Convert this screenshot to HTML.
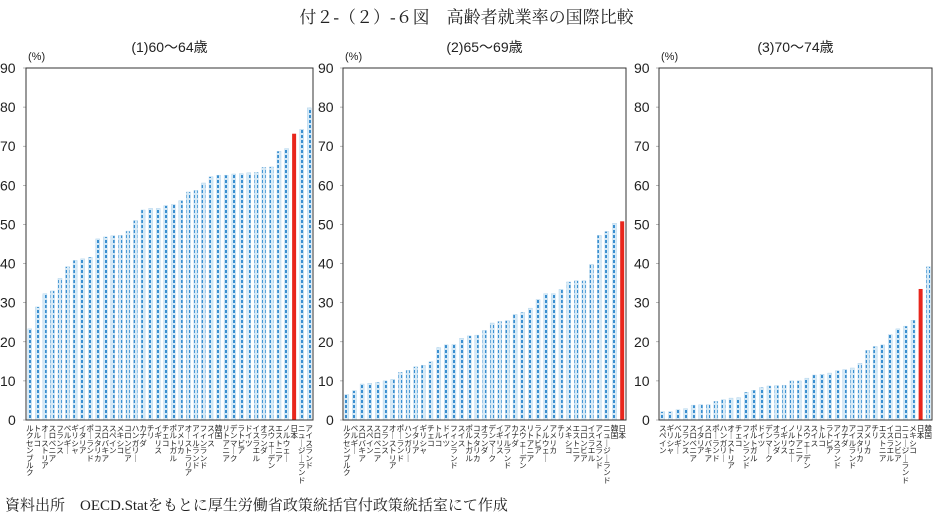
<!DOCTYPE html>
<html><head><meta charset="utf-8">
<style>
body{margin:0;width:933px;height:515px;background:#fff;position:relative;overflow:hidden;font-family:"Liberation Sans","Noto Sans CJK JP",sans-serif;}
svg{position:absolute;left:0;top:0}
.lab{position:absolute;font-size:7.6px;line-height:7.4px;width:9px;text-align:center;color:#222;font-family:"Noto Sans CJK JP",sans-serif;white-space:normal}
.title{position:absolute;top:3px;left:0;width:933px;text-align:center;font-size:17px;font-family:"Liberation Serif","Noto Serif CJK SC",serif;color:#222}
.foot{position:absolute;top:494px;left:5px;font-size:15px;font-family:"Liberation Serif","Noto Serif CJK SC",serif;color:#222}
</style></head><body>
<div class="title">付２-（２）-６図　高齢者就業率の国際比較</div>
<div class="foot">資料出所　OECD.Statをもとに厚生労働省政策統括官付政策統括室にて作成</div>
<svg id="chart" width="933" height="515">
<defs>
<pattern id="hatch" width="4" height="5" patternUnits="userSpaceOnUse">
<rect width="4" height="5" fill="#d6eaf7"/>
<rect x="1" y="0" width="2" height="3" fill="#3a8fd0"/>
</pattern>
</defs>
</svg>
<script>
const cats1=["ルクセンブルク","トルコ","オーストリア","スロベニア","フランス","ベルギー","ギリシャ","イタリア","ポーランド","コスタリカ","スロバキア","スペイン","メキシコ","コロンビア","ハンガリー","カナダ","チリ","イギリス","チェコ","ポルトガル","アメリカ","オーストラリア","アイルランド","フィンランド","スイス","韓国","リトアニア","デンマーク","ラトビア","ドイツ","イスラエル","オランダ","スウェーデン","エストニア","ノルウェー","日本","ニュージーランド","アイスランド"];
const vals1=[23.3,28.9,32.3,33,36.2,39.2,40.8,41.2,41.6,46.3,46.8,47.1,47.2,48.3,51,53.7,54.1,54.1,54.8,55.1,56.1,58.3,58.7,60.6,62.2,62.6,62.6,62.9,63.0,63.2,63.3,64.6,64.7,68.7,69.4,73.2,74.3,79.8];
const cats2=["ルクセンブルク","ベルギー","スロバキア","スペイン","スロベニア","フランス","オーストリア","ポーランド","ハンガリー","イタリア","ギリシャ","チェコ","トルコ","ドイツ","フィンランド","スイス","ポルトガル","コスタリカ","オランダ","デンマーク","イギリス","アイルランド","カナダ","スウェーデン","リトアニア","ラトビア","ノルウェー","アメリカ","チリ","メキシコ","エストニア","コロンビア","イスラエル","アイスランド","ニュージーランド","韓国","日本"];
const vals2=[6.5,7.5,9.2,9.4,9.6,10,10.4,12.2,12.7,13.6,14,14.9,18.5,19.2,19.3,20.9,21.5,21.7,22.9,24.8,25.2,25.4,27,27.5,28.6,30.8,32.3,32.3,33.4,35.3,35.6,35.6,39.8,47.2,48.2,50.3,50.8];
const cats3=["スペイン","ギリシャ","ベルギー","フランス","スロベニア","イタリア","スロバキア","ポーランド","ハンガリー","オーストリア","チェコ","フィンランド","ポルトガル","ドイツ","デンマーク","オランダ","イギリス","ノルウェー","リトアニア","スウェーデン","スイス","トルコ","ラトビア","アイスランド","カナダ","アイルランド","コスタリカ","アメリカ","チリ","エストニア","イスラエル","コロンビア","ニュージーランド","メキシコ","日本","韓国"];
const vals3=[2.1,2.1,2.6,2.9,3.8,3.9,3.9,4.8,5.2,5.6,5.7,7.1,7.6,8.3,8.7,8.8,8.9,10,10,10.7,11.5,11.7,12,12.6,12.9,13.3,14.5,17.8,18.8,19.2,21.8,23.3,24,25.5,33.5,39.2];
const titles=["(1)60～64歳","(2)65～69歳","(3)70～74歳"];
const yTicks=[0,10,20,30,40,50,60,70,80,90];
const highlight="日本";

const NS="http://www.w3.org/2000/svg";
const svg=document.getElementById('chart');
function mk(tag,attrs,parent){const e=document.createElementNS(NS,tag);for(const k in attrs)e.setAttribute(k,attrs[k]);(parent||svg).appendChild(e);return e;}
const top0=68,bot=420;
function yScale(v){return bot-(v/90)*(bot-top0);}
const panels=[{c:cats1,v:vals1,l:26,r:313,yl:0},{c:cats2,v:vals2,l:343,r:626,yl:318},{c:cats3,v:vals3,l:659,r:932,yl:634}];
panels.forEach((p,pi)=>{
  const g=mk('g',{});
  
  
  yTicks.forEach(t=>{
    const tx=mk('text',{x:p.yl+(t===0?8:0),y:yScale(t)+5,'font-size':14,fill:'#222','font-family':'Liberation Sans, sans-serif'},g);
    tx.textContent=t;
    
    
    mk('line',{x1:p.l-3,x2:p.l,y1:yScale(t),y2:yScale(t),stroke:'#888','stroke-width':0.6},g);
  });
  const unit=mk('text',{x:p.l+2,y:60,'font-size':11,fill:'#222'},g);
  unit.textContent='(%)';
  
  
  const tt=mk('text',{x:(p.l+p.r)/2,y:52,'font-size':14,fill:'#222','text-anchor':'middle','font-family':'Liberation Sans, Noto Sans CJK JP, sans-serif'},g);
  tt.textContent=titles[pi];
  
  
  const n=p.v.length, w=(p.r-p.l)/n;
  p.v.forEach((v,i)=>{
    const x=p.l+w*(i+0.5)-2;
    const isJ=p.c[i]===highlight;
    const b=mk('rect',{x:x,y:yScale(v),width:4,height:bot-yScale(v),fill:isJ?'#e8261c':'url(#hatch)'},g);
    if(!isJ)b.setAttribute('stroke','#a8cfea'),b.setAttribute('stroke-width','0.4');
    
    
    const d=document.createElement('div');
    d.className='lab';
    d.style.left=(p.l+w*(i+0.5)-4.5)+'px';
    d.style.top='425px';
    d.innerHTML=Array.from(p.c[i]).map(ch=>ch==='ー'?'｜':ch).join('<br>');
    
    
    document.body.appendChild(d);
  });
  const fr=mk('rect',{x:p.l,y:top0,width:p.r-p.l,height:bot-top0,fill:'none',stroke:'#333','stroke-width':1},g);
  
  
});
</script>
</body></html>
